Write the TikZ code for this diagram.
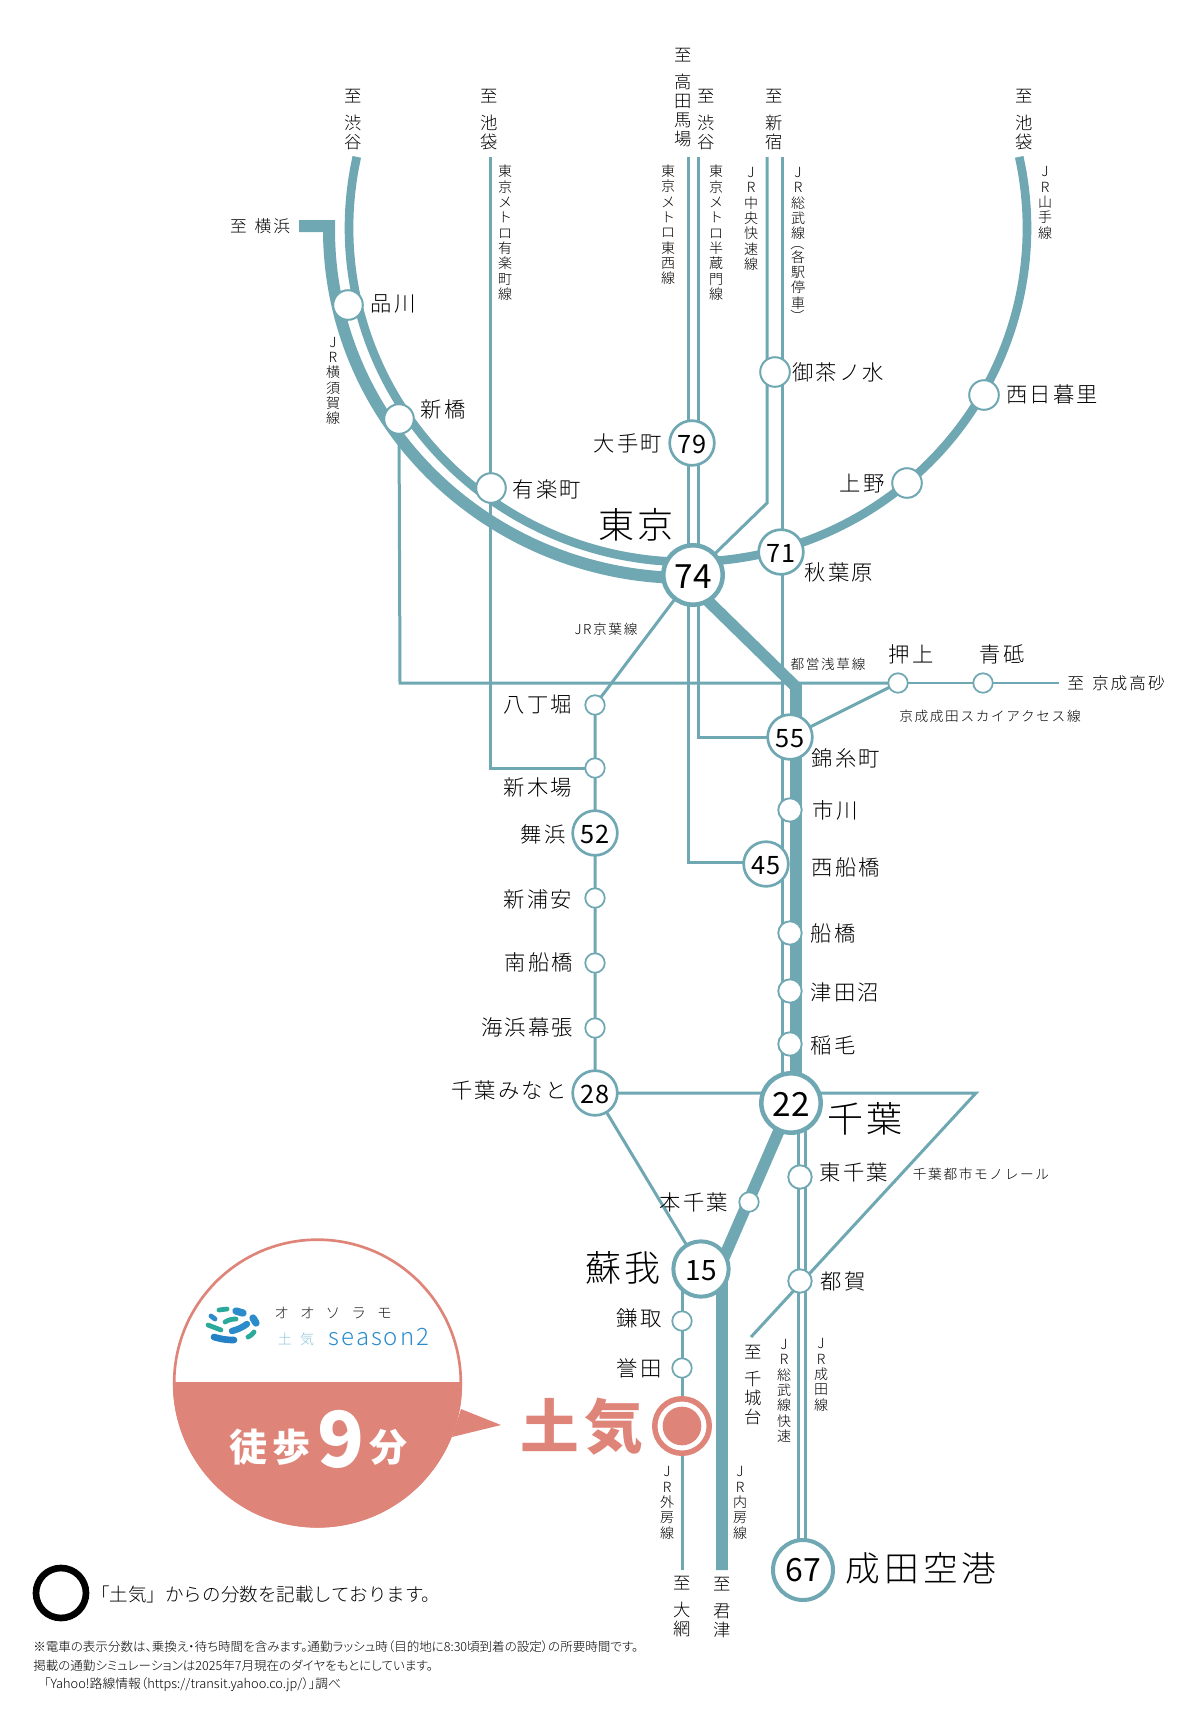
\documentclass[tikz,border=0pt]{standalone}
\usepackage{fontspec}
\usetikzlibrary{backgrounds}
\newfontfamily\jp{Noto Sans CJK JP Light}
\newfontfamily\jpr{Noto Sans CJK JP}
\definecolor{rail}{HTML}{6FA8B3}
\definecolor{salmon}{HTML}{DF8478}
\definecolor{logoblue}{HTML}{2C8CCB}
\definecolor{logodeep}{HTML}{2481C6}
\definecolor{logogreen}{HTML}{2BA99A}
\definecolor{logopale}{HTML}{8CC6DC}
\definecolor{inkdark}{HTML}{222222}
\tikzset{
  stsm/.style={circle,draw=rail,fill=white,line width=1.3pt,minimum size=14.6pt,inner sep=0pt},
  stmd/.style={circle,draw=rail,fill=white,line width=1.4pt,minimum size=17.6pt,inner sep=0pt},
  stlg/.style={circle,draw=rail,fill=white,line width=1.5pt,minimum size=22.2pt,inner sep=0pt},
  stnum/.style={circle,draw=rail,fill=white,line width=2pt,minimum size=33.5pt,inner sep=0pt,font=\jpr\fontsize{19}{19}\selectfont,text=black,text height=16pt,text depth=0pt},
  stbig/.style={circle,draw=rail,fill=white,line width=3.4pt,minimum size=44.5pt,inner sep=0pt,font=\jpr\fontsize{25}{25}\selectfont,text=black,text height=19.5pt,text depth=0pt},
  lab/.style={font=\jp\fontsize{16}{19}\selectfont\addfontfeature{LetterSpace=10},inner sep=0pt,text=black},
  biglab/.style={font=\jp\fontsize{27}{31}\selectfont\addfontfeature{LetterSpace=8},inner sep=0pt,text=black},
  smlab/.style={font=\jp\fontsize{10.25}{12}\selectfont\addfontfeature{LetterSpace=12},inner sep=0pt,text=black},
  dirlab/.style={font=\jp\fontsize{12.5}{15}\selectfont\addfontfeature{LetterSpace=12},inner sep=0pt,text=black},
  vdir/.style={font=\jp\fontsize{13}{14.25}\selectfont,align=center,inner sep=0pt,text=black},
  vline/.style={font=\jp\fontsize{10.5}{11.5}\selectfont,align=center,inner sep=0pt,text=black},
  railthin/.style={draw=rail,line width=2.25pt},
  railhair/.style={draw=rail,line width=1.5pt},
  railloop/.style={draw=rail,line width=6.5pt},
  railwide/.style={draw=rail,line width=8.7pt},
  blob/.style={line cap=round,line width=#1},
}
\begin{document}
\begin{tikzpicture}[x=0.75pt,y=-0.75pt]
\useasboundingbox (0,0) rectangle (1200,1721);
% stations
\node[stlg] (shinagawa) at (348,305) {};
\node[stlg] (shimbashi) at (399,419) {};
\node[stlg] (yurakucho) at (491,488) {};
\node[stlg] (ochanomizu) at (775,372) {};
\node[stlg] (nippori) at (984,395) {};
\node[stlg] (ueno) at (907,483) {};
\node[stnum] (otemachi) at (692,443) {79};
\node[stbig] (tokyo) at (693,575) {74};
\node[stnum] (akihabara) at (781,552) {71};
\node[stsm] (oshiage) at (898,683) {};
\node[stsm] (aoto) at (983,683) {};
\node[stnum] (kinshicho) at (790,737) {55};
\node[stmd] (ichikawa) at (790,810) {};
\node[stnum] (nishifuna) at (766,864) {45};
\node[stmd] (funabashi) at (790,933) {};
\node[stmd] (tsudanuma) at (790,991) {};
\node[stmd] (inage) at (790,1044) {};
\node[stbig] (chiba) at (791,1103) {22};
\node[stsm] (hatchobori) at (595,705) {};
\node[stsm] (shinkiba) at (595,768) {};
\node[stnum] (maihama) at (595,833) {52};
\node[stsm] (urayasu) at (595,898) {};
\node[stsm] (minamifuna) at (595,963) {};
\node[stsm] (makuhari) at (595,1028) {};
\node[stnum] (minato) at (595,1093) {28};
\node[stmd] (higashichiba) at (800,1177) {};
\node[stmd] (tsuga) at (800,1281) {};
\node[stsm] (honchiba) at (749,1202) {};
\node[circle,draw=rail,fill=white,line width=3pt,minimum size=41.5pt,inner sep=0pt,font=\jpr\fontsize{21}{21}\selectfont,text=black,text height=17.4pt,text depth=0pt] (soga) at (701,1269) {15};
\node[stsm] (kamatori) at (682,1321) {};
\node[stsm] (homita) at (682,1368) {};
\node[circle,draw=rail,fill=white,line width=3pt,minimum size=45pt,inner sep=0pt,font=\jpr\fontsize{24}{24}\selectfont,text=black] (narita) at (803,1570) {67};
\node[circle,draw=salmon,fill=white,line width=4.1pt,minimum size=40.9pt,inner sep=0pt] (toke) at (682,1426) {};
\node[circle,fill=salmon,minimum size=29pt,inner sep=0pt] (tokecore) at (682,1426) {};
% way points
\coordinate (yokoEnd) at (299,226);
\coordinate (yokoCorner) at (329,226);
\coordinate (yuraTop) at (490,157);
\coordinate (yuraTurn) at (490,768);
\coordinate (tozaiTop) at (688,157);
\coordinate (tozaiTurn) at (688,862);
\coordinate (tozaiEnd) at (766,862);
\coordinate (hanzoTop) at (698,157);
\coordinate (hanzoTurn) at (698,737);
\coordinate (chuoTop) at (767,157);
\coordinate (chuoBend) at (767,503);
\coordinate (sobuTop) at (782,157);
\coordinate (sobuBot) at (782,1103);
\coordinate (asaStart) at (706,599);
\coordinate (asaCorner) at (796,687);
\coordinate (asaEnd) at (796,1100);
\coordinate (skyCorner) at (400,683);
\coordinate (skyEnd) at (1059,683);
\coordinate (monoTip) at (976,1093);
\coordinate (monoEnd) at (751,1337);
\coordinate (uchiBend) at (722,1262);
\coordinate (uchiEnd) at (722,1570);
\coordinate (sotoStart) at (682,1269);
\coordinate (sotoEnd) at (682,1570);
\coordinate (rapidA) at (798,1103);
\coordinate (rapidB) at (805,1103);
\coordinate (rapidAe) at (798,1570);
\coordinate (rapidBe) at (805,1570);
% lines behind the stations
\begin{scope}[on background layer]
\draw[railthin] (yuraTop) -- (yuraTurn) -- (shinkiba.center);
\draw[railthin] (tozaiTop) -- (tozaiTurn) -- (tozaiEnd);
\draw[railthin] (hanzoTop) -- (hanzoTurn) -- (kinshicho.center);
\draw[railthin] (chuoTop) -- (chuoBend) -- (tokyo.center);
\draw[railthin] (sobuTop) -- (sobuBot);
\draw[railloop] plot[domain=192.3:-12.3,samples=90,smooth] ({688+339*cos(\x)},{228+334*sin(\x)});
\draw[railwide,line width=9pt] (yokoEnd) -- (yokoCorner) -- plot[domain=180:90,samples=50,smooth] ({686+357*cos(\x)},{230+348*sin(\x)});
\draw[railwide] (asaStart) -- (asaCorner) -- (asaEnd);
\draw[railthin] (shimbashi.center) -- (skyCorner) -- (oshiage.center);
\draw[railhair] (oshiage.center) -- (aoto.center) -- (skyEnd);
\draw[railthin] (kinshicho.center) -- (oshiage.center);
\draw[railthin] (tokyo.center) -- (hatchobori.center) -- (minato.center);
\draw[railthin] (minato.center) -- (monoTip) -- (monoEnd);
\draw[railthin] (minato.center) -- (soga.center);
\draw[railwide] (chiba.center) -- (uchiBend) -- (uchiEnd);
\draw[railthin] (sotoStart) -- (sotoEnd);
\draw[railthin] (rapidA) -- (rapidAe);
\draw[railthin] (rapidB) -- (rapidBe);
\end{scope}
% station labels
\node[lab] (tShinagawa) at (393,304) {品川};
\node[lab] (tShimbashi) at (443,409) {新橋};
\node[lab] (tYurakucho) at (547,489) {有楽町};
\node[lab] (tOtemachi) at (628,443) {大手町};
\node[lab] (tOchanomizu) at (838,372) {御茶ノ水};
\node[lab] (tNippori) at (1052,394) {西日暮里};
\node[lab] (tUeno) at (862,484) {上野};
\node[biglab] (tTokyo) at (636,525) {東京};
\node[lab] (tAkihabara) at (839,572) {秋葉原};
\node[smlab] (tKeiyo) at (606,629) {JR京葉線};
\node[smlab] (tAsakusa) at (828,664) {都営浅草線};
\node[lab] (tOshiage) at (911,654) {押上};
\node[lab] (tAoto) at (1002,654) {青砥};
\node[dirlab] (tTakasago) at (1116,683) {至\hspace{6pt}京成高砂};
\node[smlab] (tSky) at (990,716) {京成成田スカイアクセス線};
\node[lab] (tHatchobori) at (538,705) {八丁堀};
\node[lab] (tShinkiba) at (538,787) {新木場};
\node[lab] (tKinshicho) at (846,758) {錦糸町};
\node[lab] (tIchikawa) at (835,810) {市川};
\node[lab] (tNishifuna) at (846,867) {西船橋};
\node[lab] (tFunabashi) at (833,933) {船橋};
\node[lab] (tTsudanuma) at (845,992) {津田沼};
\node[lab] (tInage) at (833,1045) {稲毛};
\node[lab] (tMaihama) at (543,834) {舞浜};
\node[lab] (tUrayasu) at (538,899) {新浦安};
\node[lab] (tMinami) at (539,962) {南船橋};
\node[lab] (tMakuhari) at (527,1027) {海浜幕張};
\node[lab] (tMinato) at (509,1090) {千葉みなと};
\node[biglab] (tChiba) at (865,1119) {千葉};
\node[lab] (tHigashi) at (854,1172) {東千葉};
\node[smlab] (tMono) at (981,1174) {千葉都市モノレール};
\node[lab] (tHonchiba) at (694,1202) {本千葉};
\node[biglab] (tSoga) at (623,1268) {蘇我};
\node[lab] (tTsuga) at (843,1281) {都賀};
\node[lab] (tKamatori) at (639,1318) {鎌取};
\node[lab] (tHomita) at (639,1368) {誉田};
\node[font=\jpr\bfseries\fontsize{44}{48}\selectfont\addfontfeature{LetterSpace=8},inner sep=0pt,text=salmon] (tToke) at (582,1427) {土気};
\node[font=\jp\fontsize{26}{30}\selectfont\addfontfeature{LetterSpace=12},inner sep=0pt,text=black] (tNarita) at (921,1568) {成田空港};
\node[dirlab] (tYokohama) at (260,226) {至\hspace{6pt}横浜};
% vertical direction labels
\node[vdir] (dShibuyaA) at (353,120) {至\\[6pt]渋\\谷};
\node[vdir] (dIkeA) at (489,120) {至\\[6pt]池\\袋};
\node[vdir] (dTakada) at (683,98) {至\\[6pt]高\\田\\馬\\場};
\node[vdir] (dShibuyaB) at (706,120) {至\\[6pt]渋\\谷};
\node[vdir] (dShinjuku) at (774,120) {至\\[6pt]新\\宿};
\node[vdir] (dIkeB) at (1024,120) {至\\[6pt]池\\袋};
\node[vdir] (dChishiro) at (753,1385) {至\\[6pt]千\\城\\台};
\node[vdir] (dOami) at (682,1607) {至\\[6pt]大\\網};
\node[vdir] (dKimitsu) at (722,1607) {至\\[6pt]君\\津};
% vertical line names
\node[vline] (lYokosuka) at (333,381) {J\\R\\横\\須\\賀\\線};
\node[vline] (lYuraku) at (505,233) {東\\京\\メ\\ト\\ロ\\有\\楽\\町\\線};
\node[vline] (lTozai) at (668,225) {東\\京\\メ\\ト\\ロ\\東\\西\\線};
\node[vline] (lHanzo) at (716,233) {東\\京\\メ\\ト\\ロ\\半\\蔵\\門\\線};
\node[vline] (lChuo) at (751,219) {J\\R\\中\\央\\快\\速\\線};
\node[vline,anchor=north] (lSobu) at (798,167) {J\\R\\総\\武\\線\\[-3.75pt]\smash{\rotatebox[origin=c]{-90}{（}}\\[-1.75pt]各\\駅\\停\\車\\[-1pt]\smash{\rotatebox[origin=c]{-90}{）}}};
\node[vline] (lYama) at (1045,203) {J\\R\\山\\手\\線};
\node[vline] (lRapid) at (784,1391) {J\\R\\総\\武\\線\\快\\速};
\node[vline] (lNarita) at (821,1375) {J\\R\\成\\田\\線};
\node[vline] (lSoto) at (667,1503) {J\\R\\外\\房\\線};
\node[vline] (lUchi) at (740,1503) {J\\R\\内\\房\\線};
% speech bubble
\node[circle,draw=salmon,fill=white,line width=2pt,minimum size=215pt,inner sep=0pt] (bubble) at (317.5,1383) {};
\begin{scope}
\clip (150,1382) rectangle (480,1540);
\fill[salmon] (bubble.center) circle[radius=108.4pt];
\end{scope}
\coordinate (tailA) at (461,1409);
\coordinate (tailTip) at (501,1425);
\coordinate (tailB) at (452,1437);
\fill[salmon] (tailA) -- (tailTip) -- (tailB) -- cycle;
\node[font=\jpr\bfseries\fontsize{28.5}{32}\selectfont\addfontfeature{LetterSpace=15},inner sep=0pt,text=white] (tWalk) at (270,1447) {徒歩};
\node[font=\jpr\bfseries\fontsize{58}{62}\selectfont,inner sep=0pt,text=white] (tNine) at (341,1439) {9};
\node[font=\jpr\bfseries\fontsize{28.5}{32}\selectfont,inner sep=0pt,text=white] (tMin) at (388,1447) {分};
% logo
\draw[blob=3.6pt,logogreen] (219,1310) -- (227,1309);
\draw[blob=5.5pt,logoblue] (236,1311) -- (243,1313);
\draw[blob=3.6pt,logoblue] (211,1316) -- (215,1319);
\draw[blob=3.6pt,logogreen] (225,1322) to[bend left=15] (236,1319);
\draw[blob=5.5pt,logoblue] (253,1318) -- (256,1323);
\draw[blob=3.6pt,logogreen] (208,1325) -- (221,1330);
\draw[blob=4.8pt,logoblue] (232,1331) to[bend right=10] (247,1324);
\draw[blob=3.6pt,logogreen] (248,1337) to[bend right=15] (254,1332);
\draw[blob=5pt,logodeep] (214,1337) to[bend right=8] (234,1340);
\node[font=\jp\fontsize{11}{13}\selectfont\addfontfeature{LetterSpace=75},inner sep=0pt,text=inkdark] (tOozora) at (333,1313) {オオソラモ};
\node[font=\jp\fontsize{10.5}{13}\selectfont\addfontfeature{LetterSpace=60},inner sep=0pt,text=logopale] (tTokeSmall) at (296,1339) {土気};
\node[font=\jp\fontsize{18}{20}\selectfont\addfontfeature{LetterSpace=8},inner sep=0pt,text=logoblue] (tSeason) at (379,1337) {season2};
% legend and notes
\node[circle,draw=black,line width=5pt,minimum size=37.5pt,inner sep=0pt] (legend) at (61,1593) {};
\node[font=\jp\fontsize{13.9}{16}\selectfont,anchor=west,inner sep=0pt,text=black] (tLegend) at (91,1594) {「土気」からの分数を記載しております。};
\node[font=\jp\fontsize{9.4}{11}\selectfont\addfontfeature{RawFeature=+palt},anchor=west,inner sep=0pt,text=black] (note1) at (33,1647) {※電車の表示分数は、乗換え・待ち時間を含みます。通勤ラッシュ時（目的地に8:30頃到着の設定）の所要時間です。};
\node[font=\jp\fontsize{9.4}{11}\selectfont\addfontfeature{RawFeature=+palt},anchor=west,inner sep=0pt,text=black] (note2) at (33,1666) {掲載の通勤シミュレーションは2025年7月現在のダイヤをもとにしています。};
\node[font=\jp\fontsize{9.6}{11}\selectfont\addfontfeature{RawFeature=+palt},anchor=west,inner sep=0pt,text=black] (note3) at (44,1685) {「Yahoo!路線情報（https://transit.yahoo.co.jp/）」調べ};
\end{tikzpicture}
\end{document}
